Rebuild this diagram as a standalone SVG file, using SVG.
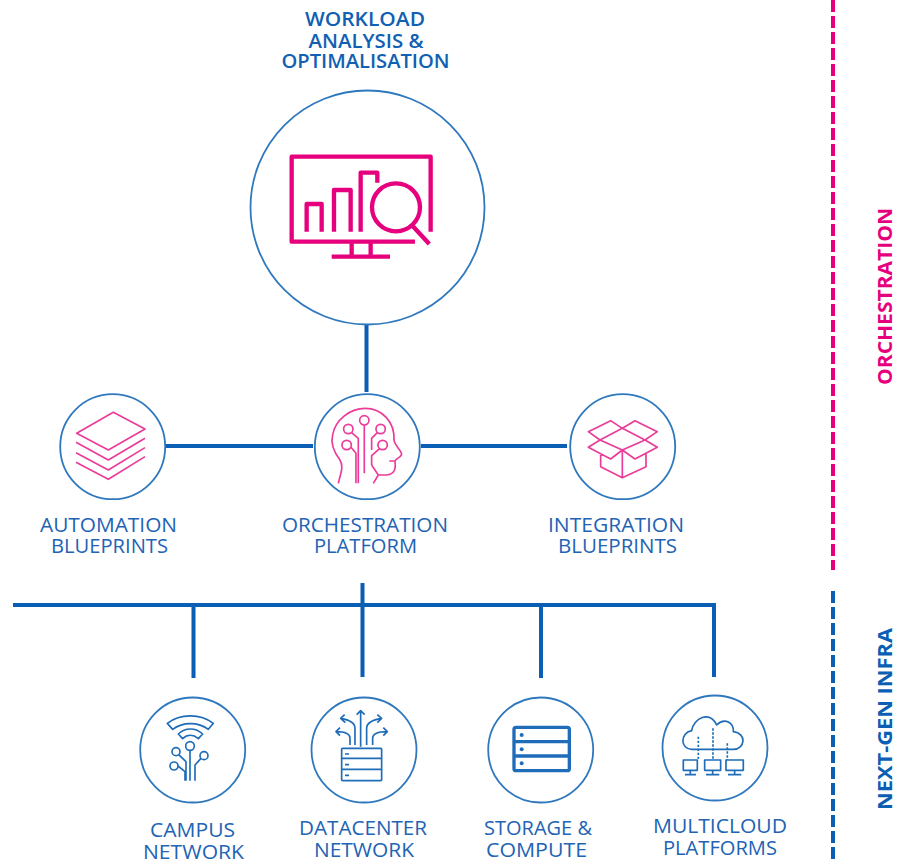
<svg xmlns="http://www.w3.org/2000/svg" width="907" height="860" viewBox="0 0 907 860">
<style>
text{font-family:"Open Sans","Liberation Sans",sans-serif;text-anchor:middle;fill:#2263b4}
.lb{font-size:20px;font-weight:400}
.tt{font-size:20px;font-weight:600;fill:#1060b4}
.ring{fill:#fff;stroke:#2f78bd;stroke-width:1.800}
.conn{fill:none;stroke:#0a5fb4;stroke-width:4}
.p{fill:none;stroke:#e6007e;stroke-linejoin:round}
.ps{fill:none;stroke:#ea3c98;stroke-linejoin:round}
.b{fill:none;stroke:#1f6cb9;stroke-linejoin:round}
.side{font-size:20px;font-weight:700}
</style>
<g id="connectors">
<path class="conn" d="M366.500 324V392M165 446H313M421 446H567M13 605H716M193.500 605V678M362.500 583V677M541 605V678M714 605V677"/>
<path d="M833 0V570" fill="none" stroke="#e6007e" stroke-width="4" stroke-dasharray="12 4"/>
<path d="M833 591V860" fill="none" stroke="#0a5fb4" stroke-width="4" stroke-dasharray="12 4"/>
</g>
<g id="workload">
<circle class="ring" cx="367.500" cy="207.500" r="117"/>
<g transform="translate(240 0) scale(.3333)" class="p" stroke-width="13">
<path d="M525 725H155V470H572V695M200 695V612H245V695M282 695V570H332V695M362 695V518H412V548M518 678L568 732M335 725V770M392 725V770M275 770H450"/>
<circle cx="468" cy="622" r="72"/>
</g>
<text class="tt" x="365" y="26" textLength="120" lengthAdjust="spacingAndGlyphs">WORKLOAD</text>
<text class="tt" x="366" y="47.500" textLength="115" lengthAdjust="spacingAndGlyphs">ANALYSIS &amp;</text>
<text class="tt" x="365.500" y="68" textLength="168" lengthAdjust="spacingAndGlyphs">OPTIMALISATION</text>
</g>
<g id="automation">
<circle class="ring" cx="112.700" cy="446.700" r="52.500"/>
<g transform="translate(30 385) scale(.3333)" class="ps" stroke-width="5">
<path d="M250 82L345 132L235 195L140 145ZM138 172L235 225L345 160M138 203L235 255L345 188M138 232L235 283L345 215"/>
</g>
<text class="lb" x="108.500" y="531.500" textLength="137" lengthAdjust="spacingAndGlyphs">AUTOMATION</text>
<text class="lb" x="109.500" y="553" textLength="117" lengthAdjust="spacingAndGlyphs">BLUEPRINTS</text>
</g>
<g id="orchestration">
<circle class="ring" cx="367.300" cy="446.700" r="52.500"/>
<g transform="translate(30 385) scale(.3333)" class="ps" stroke-width="5">
<path d="M925 295C932 265 942 245 930 225C915 205 900 180 908 150C915 105 960 70 1005 70C1060 70 1095 115 1092 165C1095 185 1115 195 1115 208C1110 220 1098 220 1095 228H1078M1095 228C1098 250 1095 268 1070 270H1045L1025 240M1045 270L1030 295"/>
<circle cx="1003" cy="106" r="14"/><circle cx="955" cy="132" r="14"/><circle cx="1052" cy="132" r="14"/><circle cx="950" cy="180" r="14"/><circle cx="1058" cy="180" r="14"/>
<path d="M1003 120V265M965 143L985 160V295M963 187L978 205V295M1042 143L1025 160V195M1048 192L1025 212V240"/>
</g>
<text class="lb" x="365" y="531.500" textLength="166" lengthAdjust="spacingAndGlyphs">ORCHESTRATION</text>
<text class="lb" x="365.500" y="553" textLength="103" lengthAdjust="spacingAndGlyphs">PLATFORM</text>
</g>
<g id="integration">
<circle class="ring" cx="622.700" cy="446.700" r="52.500"/>
<g transform="translate(540 385) scale(.3333)" class="ps" stroke-width="5">
<path d="M247 130L212 107L145 140L180 165ZM247 130L285 107L352 140L315 165ZM247 130L315 165L247 195L180 165ZM180 165L145 187L212 222L247 195M315 165L352 187L285 222L247 195M182 205V245L247 278L318 245V205M247 195V278"/>
</g>
<text class="lb" x="616" y="531.500" textLength="136" lengthAdjust="spacingAndGlyphs">INTEGRATION</text>
<text class="lb" x="617.500" y="553" textLength="119" lengthAdjust="spacingAndGlyphs">BLUEPRINTS</text>
</g>
<g id="campus">
<circle class="ring" cx="192.700" cy="750" r="52.500"/>
<g transform="translate(130 690) scale(.3333)" class="b" stroke-width="5">
<path d="M112 100C150 70 212 70 250 100L235 118C205 95 158 95 128 118ZM145 132C165 112 197 112 218 132L205 146C190 133 172 133 158 146Z"/>
<circle cx="180" cy="168" r="13"/><circle cx="138" cy="185" r="12"/><circle cx="222" cy="197" r="12"/><circle cx="132" cy="228" r="12"/>
<path d="M180 181V272M146 194L168 215V272M144 228L165 245V272M213 205L195 225V272"/>
</g>
<text class="lb" x="192.500" y="837" textLength="85" lengthAdjust="spacingAndGlyphs">CAMPUS</text>
<text class="lb" x="193.500" y="858.500" textLength="101" lengthAdjust="spacingAndGlyphs">NETWORK</text>
</g>
<g id="datacenter">
<circle class="ring" cx="364" cy="750" r="52.500"/>
<g transform="translate(130 690) scale(.3333)" class="b" stroke-width="5">
<rect x="635" y="175" width="120" height="97" rx="3"/>
<path d="M635 205H755M635 238H755M645 192H657M645 224H657M645 256H657"/>
<path d="M692 170V62M680 74L692 62L704 74M675 165V115Q675 92 632 85M644 74L632 85L646 98M710 165V115Q710 92 755 85M742 74L755 85L742 98M660 165V145Q660 125 618 125M630 113L618 125L630 137M728 165V145Q728 125 772 125M760 113L772 125L760 137"/>
</g>
<text class="lb" x="363" y="835" textLength="128" lengthAdjust="spacingAndGlyphs">DATACENTER</text>
<text class="lb" x="364" y="857" textLength="100" lengthAdjust="spacingAndGlyphs">NETWORK</text>
</g>
<g id="storage">
<circle class="ring" cx="540.700" cy="750" r="52.500"/>
<g transform="translate(470 690) scale(.3333)" class="b" stroke-width="10">
<rect x="132" y="112" width="166" height="130" rx="6"/>
<path d="M132 155H298M132 198H298"/>
<circle cx="155" cy="135" r="6" fill="#1f6cb9" stroke="none"/><circle cx="155" cy="178" r="6" fill="#1f6cb9" stroke="none"/><circle cx="155" cy="220" r="6" fill="#1f6cb9" stroke="none"/>
</g>
<text class="lb" x="538" y="835" textLength="108" lengthAdjust="spacingAndGlyphs">STORAGE &amp;</text>
<text class="lb" x="536.500" y="857" textLength="101" lengthAdjust="spacingAndGlyphs">COMPUTE</text>
</g>
<g id="multicloud">
<circle class="ring" cx="715" cy="748" r="52.500"/>
<g transform="translate(470 690) scale(.3333)" class="b" stroke-width="5">
<path d="M665 178C632 178 628 130 665 122C670 85 720 60 740 105C765 80 792 100 790 125C832 130 825 178 790 178Z"/>
<path d="M685 140V210M729 115V210M772 160V210" stroke-dasharray="7 5"/>
<rect x="640" y="210" width="42" height="31"/><rect x="704" y="210" width="48" height="31"/><rect x="768" y="210" width="52" height="31"/>
<path d="M661 241V254M728 241V254M794 241V254M645 254H678M708 254H748M774 254H814"/>
</g>
<text class="lb" x="720" y="833" textLength="134" lengthAdjust="spacingAndGlyphs">MULTICLOUD</text>
<text class="lb" x="720" y="855" textLength="114" lengthAdjust="spacingAndGlyphs">PLATFORMS</text>
</g>
<g id="side-labels">
<text class="side" transform="translate(892 296.500) rotate(-90)" style="fill:#e6007e" textLength="177" lengthAdjust="spacingAndGlyphs">ORCHESTRATION</text>
<text class="side" transform="translate(892 719) rotate(-90)" style="fill:#0a5fb4" textLength="182" lengthAdjust="spacingAndGlyphs">NEXT-GEN INFRA</text>
</g>
</svg>
